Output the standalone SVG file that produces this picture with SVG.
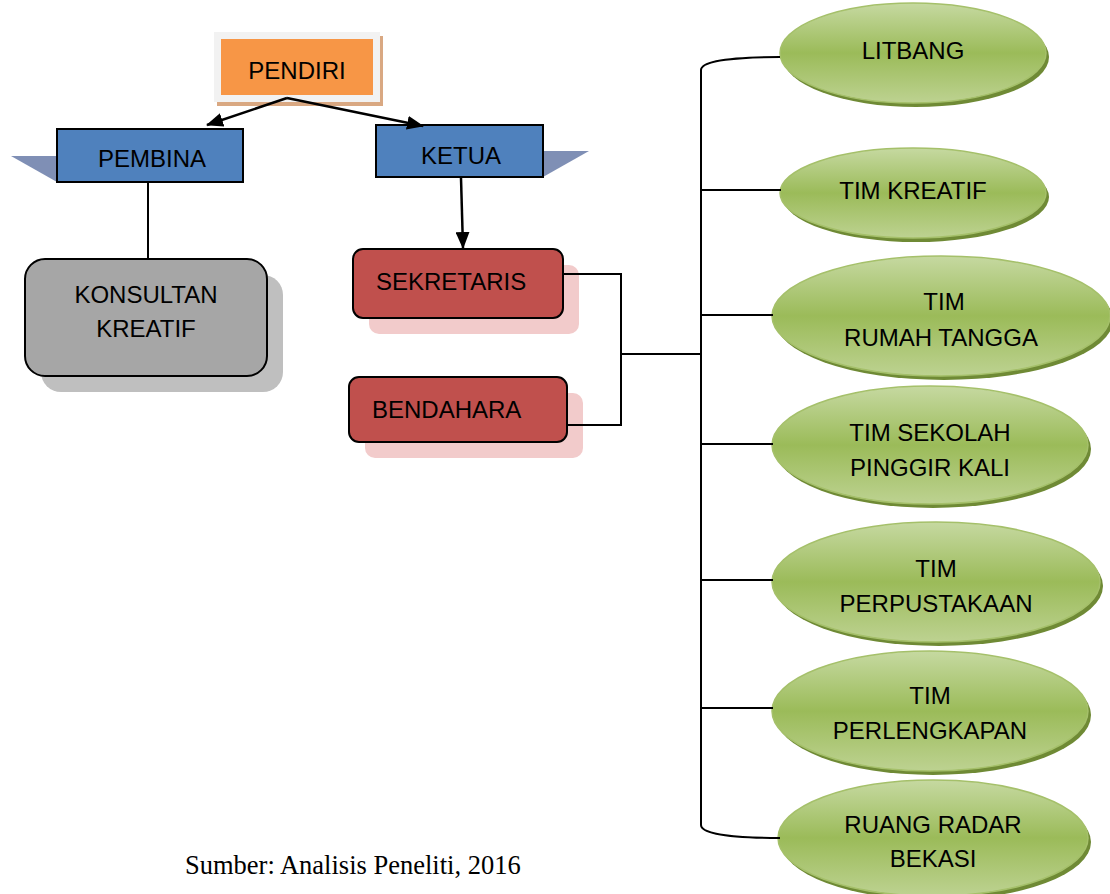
<svg xmlns="http://www.w3.org/2000/svg" width="1110" height="894" viewBox="0 0 1110 894">
<style>
.t{font-family:"Liberation Sans",Arial,sans-serif;font-size:24px;fill:#000;}
.c{text-anchor:middle;}
.ln{fill:none;stroke:#000;stroke-width:2;}
.ar{fill:none;stroke:#000;stroke-width:2.5;}
.ell{fill:url(#g);stroke:#a5c06a;stroke-width:1.5;}
.esh{fill:#6f8a35;}
</style>
<defs>
<linearGradient id="g" x1="0" y1="0" x2="0" y2="1">
<stop offset="0" stop-color="#c6d9a1"/>
<stop offset="0.5" stop-color="#9bbb59"/>
<stop offset="1" stop-color="#bdd291"/>
</linearGradient>
<marker id="ah" markerWidth="17" markerHeight="14" refX="16" refY="7" orient="auto" markerUnits="userSpaceOnUse">
<path d="M0,0 L17,7 L0,14 Z" fill="#000"/>
</marker>
</defs>
<rect width="1110" height="894" fill="#fff"/>

<g id="pendiri">
<rect x="217" y="36" width="166" height="70" fill="#d9a882"/>
<rect x="214" y="32" width="166" height="70" fill="#f2f2f2"/>
<rect x="221" y="39" width="152" height="56" fill="#f79646"/>
<text class="t c" x="297" y="79">PENDIRI</text>
</g>

<g id="pembina">
<polygon points="11,156 57,156 57,182" fill="#7f8fb5"/>
<rect x="57" y="129" width="186" height="53" fill="#4f81bd" stroke="#000" stroke-width="2"/>
<text class="t c" x="152" y="167">PEMBINA</text>
</g>

<g id="ketua">
<polygon points="543,151 589,151 543,177" fill="#7f8fb5"/>
<rect x="376" y="125" width="167" height="52" fill="#4f81bd" stroke="#000" stroke-width="2"/>
<text class="t c" x="461" y="164">KETUA</text>
</g>

<g id="konsultan">
<rect x="41" y="275" width="242" height="117" rx="20" fill="#bfbfbf"/>
<rect x="25" y="259" width="242" height="117" rx="20" fill="#a6a6a6" stroke="#000" stroke-width="2"/>
<text class="t c" x="146" y="303">KONSULTAN</text>
<text class="t c" x="146" y="337">KREATIF</text>
</g>

<g id="sekretaris">
<rect x="369" y="265" width="210" height="69" rx="10" fill="#f2cbcb"/>
<rect x="353" y="249" width="210" height="69" rx="10" fill="#c0504d" stroke="#000" stroke-width="2"/>
<text class="t" x="376" y="290">SEKRETARIS</text>
</g>

<g id="bendahara">
<rect x="365" y="393" width="218" height="65" rx="10" fill="#f2cbcb"/>
<rect x="349" y="377" width="218" height="65" rx="10" fill="#c0504d" stroke="#000" stroke-width="2"/>
<text class="t" x="372" y="418">BENDAHARA</text>
</g>

<g id="litbang">
<ellipse class="esh" cx="916" cy="57" rx="133" ry="50"/>
<ellipse class="ell" cx="913" cy="53" rx="133" ry="50"/>
<text class="t c" x="913" y="59">LITBANG</text>
</g>

<g id="tim-kreatif">
<ellipse class="esh" cx="916" cy="197" rx="133" ry="45"/>
<ellipse class="ell" cx="913" cy="193" rx="133" ry="45"/>
<text class="t c" x="913" y="199">TIM KREATIF</text>
</g>

<g id="tim-rumah-tangga">
<ellipse class="esh" cx="944" cy="320" rx="169" ry="60"/>
<ellipse class="ell" cx="941" cy="316" rx="169" ry="60"/>
<text class="t c" x="944" y="310">TIM</text>
<text class="t c" x="941" y="346">RUMAH TANGGA</text>
</g>

<g id="tim-sekolah">
<ellipse class="esh" cx="933" cy="449" rx="158" ry="59"/>
<ellipse class="ell" cx="930" cy="445" rx="158" ry="59"/>
<text class="t c" x="930" y="441">TIM SEKOLAH</text>
<text class="t c" x="930" y="476">PINGGIR KALI</text>
</g>

<g id="tim-perpustakaan">
<ellipse class="esh" cx="939" cy="586" rx="164" ry="60"/>
<ellipse class="ell" cx="936" cy="582" rx="164" ry="60"/>
<text class="t c" x="936" y="577">TIM</text>
<text class="t c" x="936" y="612">PERPUSTAKAAN</text>
</g>

<g id="tim-perlengkapan">
<ellipse class="esh" cx="933" cy="715" rx="158" ry="60"/>
<ellipse class="ell" cx="930" cy="711" rx="158" ry="60"/>
<text class="t c" x="930" y="704">TIM</text>
<text class="t c" x="930" y="739">PERLENGKAPAN</text>
</g>

<g id="ruang-radar">
<ellipse class="esh" cx="936" cy="842" rx="155" ry="58"/>
<ellipse class="ell" cx="933" cy="838" rx="155" ry="58"/>
<text class="t c" x="933" y="833">RUANG RADAR</text>
<text class="t c" x="933" y="867">BEKASI</text>
</g>

<g id="connectors">
<path class="ar" d="M287,98 L207,125" marker-end="url(#ah)"/>
<path class="ar" d="M287,98 L423,126" marker-end="url(#ah)"/>
<path class="ln" d="M148,183 L148,259"/>
<path class="ar" d="M461,178 L463,248" marker-end="url(#ah)"/>
<path class="ln" d="M564,274 L621,274 L621,425 L568,425"/>
<path class="ln" d="M621,354 L701,354"/>
<path class="ln" d="M780,57 C740,57 701,60 701,70 L701,825 C701,835 740,838 780,838"/>
<path class="ln" d="M701,190 L781,190"/>
<path class="ln" d="M701,315 L773,315"/>
<path class="ln" d="M701,444 L773,444"/>
<path class="ln" d="M701,580 L773,580"/>
<path class="ln" d="M701,708 L773,708"/>
</g>

<text x="185" y="874" style="font-family:'Liberation Serif','Times New Roman',serif;font-size:26.5px;fill:#000">Sumber: Analisis Peneliti, 2016</text>
</svg>
